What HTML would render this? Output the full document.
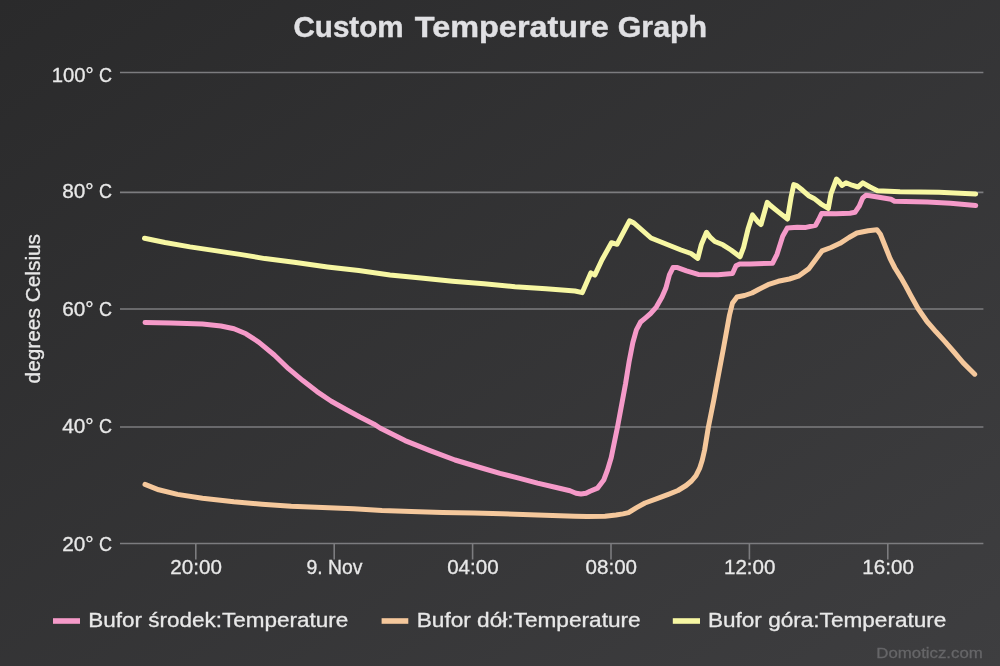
<!DOCTYPE html>
<html><head><meta charset="utf-8"><style>
html,body{margin:0;padding:0;background:#2a2a2b;overflow:hidden;}
svg{display:block;will-change:transform;font-family:"Liberation Sans",sans-serif;}
</style></head><body>
<svg width="1000" height="666" viewBox="0 0 1000 666">
<defs><linearGradient id="bg" x1="0" y1="0" x2="1" y2="1"><stop offset="0" stop-color="#2a2a2b"/><stop offset="1" stop-color="#3e3e40"/></linearGradient></defs>
<rect x="0" y="0" width="1000" height="666" fill="url(#bg)"/>
<text x="293.5" y="36.8" font-size="29.5" font-weight="bold" fill="#e0e0e3" text-anchor="start" textLength="110" lengthAdjust="spacingAndGlyphs" stroke="#e0e0e3" stroke-width="0.4">Custom</text>
<text x="414.8" y="36.8" font-size="29.5" font-weight="bold" fill="#e0e0e3" text-anchor="start" textLength="194" lengthAdjust="spacingAndGlyphs" stroke="#e0e0e3" stroke-width="0.4">Temperature</text>
<text x="617.7" y="36.8" font-size="29.5" font-weight="bold" fill="#e0e0e3" text-anchor="start" textLength="89.5" lengthAdjust="spacingAndGlyphs" stroke="#e0e0e3" stroke-width="0.4">Graph</text>
<line x1="120" x2="983.4" y1="72.5" y2="72.5" stroke="#7c7c7f" stroke-width="1.6"/>
<line x1="120" x2="983.4" y1="192.4" y2="192.4" stroke="#7c7c7f" stroke-width="1.6"/>
<line x1="120" x2="983.4" y1="309" y2="309" stroke="#7c7c7f" stroke-width="1.6"/>
<line x1="120" x2="983.4" y1="427" y2="427" stroke="#7c7c7f" stroke-width="1.6"/>
<line x1="120" x2="983.4" y1="543.5" y2="543.5" stroke="#7c7c7f" stroke-width="1.6"/>
<line x1="195.8" x2="195.8" y1="543.5" y2="559.5" stroke="#7c7c7f" stroke-width="1.6"/>
<line x1="334.2" x2="334.2" y1="543.5" y2="559.5" stroke="#7c7c7f" stroke-width="1.6"/>
<line x1="472.6" x2="472.6" y1="543.5" y2="559.5" stroke="#7c7c7f" stroke-width="1.6"/>
<line x1="611" x2="611" y1="543.5" y2="559.5" stroke="#7c7c7f" stroke-width="1.6"/>
<line x1="749.4" x2="749.4" y1="543.5" y2="559.5" stroke="#7c7c7f" stroke-width="1.6"/>
<line x1="887.8" x2="887.8" y1="543.5" y2="559.5" stroke="#7c7c7f" stroke-width="1.6"/>
<text x="93.7" y="81.75" font-size="19.5" font-weight="normal" fill="#e8e8e8" text-anchor="end" textLength="42" lengthAdjust="spacingAndGlyphs" stroke="#e8e8e8" stroke-width="0.3">100°</text>
<text x="99" y="81.75" font-size="19.5" font-weight="normal" fill="#e8e8e8" text-anchor="start" textLength="13" lengthAdjust="spacingAndGlyphs" stroke="#e8e8e8" stroke-width="0.3">C</text>
<text x="93.7" y="197.8" font-size="19.5" font-weight="normal" fill="#e8e8e8" text-anchor="end" textLength="31.5" lengthAdjust="spacingAndGlyphs" stroke="#e8e8e8" stroke-width="0.3">80°</text>
<text x="99" y="197.8" font-size="19.5" font-weight="normal" fill="#e8e8e8" text-anchor="start" textLength="13" lengthAdjust="spacingAndGlyphs" stroke="#e8e8e8" stroke-width="0.3">C</text>
<text x="93.7" y="316.3" font-size="19.5" font-weight="normal" fill="#e8e8e8" text-anchor="end" textLength="31.5" lengthAdjust="spacingAndGlyphs" stroke="#e8e8e8" stroke-width="0.3">60°</text>
<text x="99" y="316.3" font-size="19.5" font-weight="normal" fill="#e8e8e8" text-anchor="start" textLength="13" lengthAdjust="spacingAndGlyphs" stroke="#e8e8e8" stroke-width="0.3">C</text>
<text x="93.7" y="432.8" font-size="19.5" font-weight="normal" fill="#e8e8e8" text-anchor="end" textLength="31.5" lengthAdjust="spacingAndGlyphs" stroke="#e8e8e8" stroke-width="0.3">40°</text>
<text x="99" y="432.8" font-size="19.5" font-weight="normal" fill="#e8e8e8" text-anchor="start" textLength="13" lengthAdjust="spacingAndGlyphs" stroke="#e8e8e8" stroke-width="0.3">C</text>
<text x="93.7" y="550.8" font-size="19.5" font-weight="normal" fill="#e8e8e8" text-anchor="end" textLength="31.5" lengthAdjust="spacingAndGlyphs" stroke="#e8e8e8" stroke-width="0.3">20°</text>
<text x="99" y="550.8" font-size="19.5" font-weight="normal" fill="#e8e8e8" text-anchor="start" textLength="13" lengthAdjust="spacingAndGlyphs" stroke="#e8e8e8" stroke-width="0.3">C</text>
<text x="196.10000000000002" y="574.2" font-size="19.5" font-weight="normal" fill="#e8e8e8" text-anchor="middle" textLength="51.5" lengthAdjust="spacingAndGlyphs" stroke="#e8e8e8" stroke-width="0.3">20:00</text>
<text x="334.5" y="574.2" font-size="19.5" font-weight="normal" fill="#e8e8e8" text-anchor="middle" textLength="56" lengthAdjust="spacingAndGlyphs" stroke="#e8e8e8" stroke-width="0.3">9. Nov</text>
<text x="472.90000000000003" y="574.2" font-size="19.5" font-weight="normal" fill="#e8e8e8" text-anchor="middle" textLength="51.5" lengthAdjust="spacingAndGlyphs" stroke="#e8e8e8" stroke-width="0.3">04:00</text>
<text x="611.3" y="574.2" font-size="19.5" font-weight="normal" fill="#e8e8e8" text-anchor="middle" textLength="51.5" lengthAdjust="spacingAndGlyphs" stroke="#e8e8e8" stroke-width="0.3">08:00</text>
<text x="749.6999999999999" y="574.2" font-size="19.5" font-weight="normal" fill="#e8e8e8" text-anchor="middle" textLength="51.5" lengthAdjust="spacingAndGlyphs" stroke="#e8e8e8" stroke-width="0.3">12:00</text>
<text x="888.0999999999999" y="574.2" font-size="19.5" font-weight="normal" fill="#e8e8e8" text-anchor="middle" textLength="51.5" lengthAdjust="spacingAndGlyphs" stroke="#e8e8e8" stroke-width="0.3">16:00</text>
<text transform="translate(39.9,308.7) rotate(-90)" x="0" y="0" font-size="20.5" fill="#e8e8e8" text-anchor="middle" stroke="#e8e8e8" stroke-width="0.3" textLength="149.5" lengthAdjust="spacingAndGlyphs">degrees Celsius</text>
<polyline points="145,322.5 171,323.1 202.5,324 221,326 234,328.8 246,333.8 259,342.3 274.3,355 288.5,368.7 302.8,380.6 317,391.6 331.3,401.3 345.6,409.2 359.9,417 374.1,424.2 380,428 405,440.6 430,450.6 455,460 480,467.5 500,473.4 518.75,478.1 537.5,483.1 556.25,487.5 570,490.8 576,493.2 581,494 586,493.3 590,491.3 597.5,488.1 603.75,480 607.5,470 611.25,457.5 617.6,426.6 625.5,384 629.2,361.2 632.8,342.7 636.4,329.9 640.6,322 645.6,317.8 650.6,313.5 656.3,307.1 662,297.1 665.8,288.3 669.4,274.8 673,267.6 677.5,267.6 686.5,270.8 698.2,274.4 718,274.8 732.5,273.5 736,265.8 739.7,264 750,263.9 772.5,263.3 777,254.3 782.7,236.3 787.3,228 797.3,227.3 806,227.4 815.6,225.2 818.6,219.8 821.6,213.5 836,213.7 850,213.2 855,212.3 859.2,206.2 862.8,197.8 865.8,195.3 870,195.8 879,197.3 891,199.3 894.5,201.2 927.5,202 950.5,203.2 975.7,205.5" fill="none" stroke="#f59ac9" stroke-width="5" stroke-linejoin="round" stroke-linecap="round"/>
<polyline points="145,484.4 158.75,489.8 177.5,494.4 202.5,498.2 233.75,501.8 262,504.3 291.25,506.3 322.5,507.5 353.75,508.75 382,510.6 411.25,511.5 442.5,512.5 473.75,513.1 502,513.75 537.5,515 575,516.3 587,516.6 605,516.2 616,515 623,513.9 628.5,512.6 636.6,507.6 645,503 657,498.7 669,494.1 678,490.5 686.1,485.5 691.5,481 696,475.6 699.6,468.4 702.3,460 704.6,450 708.4,427 713.8,400 717.3,381 723.5,348.1 729.5,315 732.5,303 737,297 744.5,295.5 752,293 759,289.2 768,284.7 778.2,281.3 789.4,279 798.4,276.2 808.6,268.9 815.3,259.9 822,250.9 831,247.5 840,243.3 849,237.5 856.9,233 868.2,230.8 877,229.8 880.4,234.2 885.2,246.2 890,258.3 894.9,268 900.9,277.6 906,286.5 910.5,295 918,308.5 927,321.5 936,331.8 945,341.6 954,352 963,362.6 974.7,374.2" fill="none" stroke="#f5c89c" stroke-width="5" stroke-linejoin="round" stroke-linecap="round"/>
<polyline points="144.5,238.3 165,242.5 190,246.9 215,250.6 240,254.4 265,258.6 296,262.5 327.5,266.9 358.75,270.6 390,275 421,278.1 452.5,281.2 484,283.75 515,286.7 546,288.75 575,291 582.3,292.6 590.8,272.9 594.8,275.1 602,259.8 611.5,242.7 617,244.3 629.5,220.8 634,223 651,238 661,242 681,250 691,253.5 697.8,258.4 701.3,244.6 706.5,232.3 710.3,237.4 714.8,241.5 722.9,244.8 731,250 740,256.8 743.6,247.3 748.2,228.4 752.5,214.9 758,222.1 761,224.5 767.2,202.4 770.5,205.5 778,211.6 787.5,219 791.1,197 793.8,184.6 796.8,185.6 802.6,190.3 808.6,195.7 814,198.4 820.8,203.8 828.3,208.5 831,193.6 836.5,179 839,181.6 842,185.5 846,182.8 852,185.2 858,187 862.8,182.8 870,187 877.5,190.7 900,191.8 939,192.2 975.7,194" fill="none" stroke="#f7f7a3" stroke-width="5" stroke-linejoin="round" stroke-linecap="round"/>
<rect x="53" y="618.2" width="27" height="5.6" fill="#f59ac9"/>
<text x="88.3" y="627.3" font-size="20.4" font-weight="normal" fill="#e8e8e8" text-anchor="start" textLength="260" lengthAdjust="spacingAndGlyphs" stroke="#e8e8e8" stroke-width="0.3">Bufor środek:Temperature</text>
<rect x="381.6" y="618.2" width="26.69999999999999" height="5.6" fill="#f5c89c"/>
<text x="416.7" y="627.3" font-size="20.4" font-weight="normal" fill="#e8e8e8" text-anchor="start" textLength="224" lengthAdjust="spacingAndGlyphs" stroke="#e8e8e8" stroke-width="0.3">Bufor dół:Temperature</text>
<rect x="672.8" y="618.2" width="27.200000000000045" height="5.6" fill="#f7f7a3"/>
<text x="707.9" y="627.3" font-size="20.4" font-weight="normal" fill="#e8e8e8" text-anchor="start" textLength="238.5" lengthAdjust="spacingAndGlyphs" stroke="#e8e8e8" stroke-width="0.3">Bufor góra:Temperature</text>
<text x="876.3" y="657.6" font-size="15.5" font-weight="normal" fill="#666668" text-anchor="start" textLength="106.5" lengthAdjust="spacingAndGlyphs" stroke="#666668" stroke-width="0.3">Domoticz.com</text>
</svg>
</body></html>
